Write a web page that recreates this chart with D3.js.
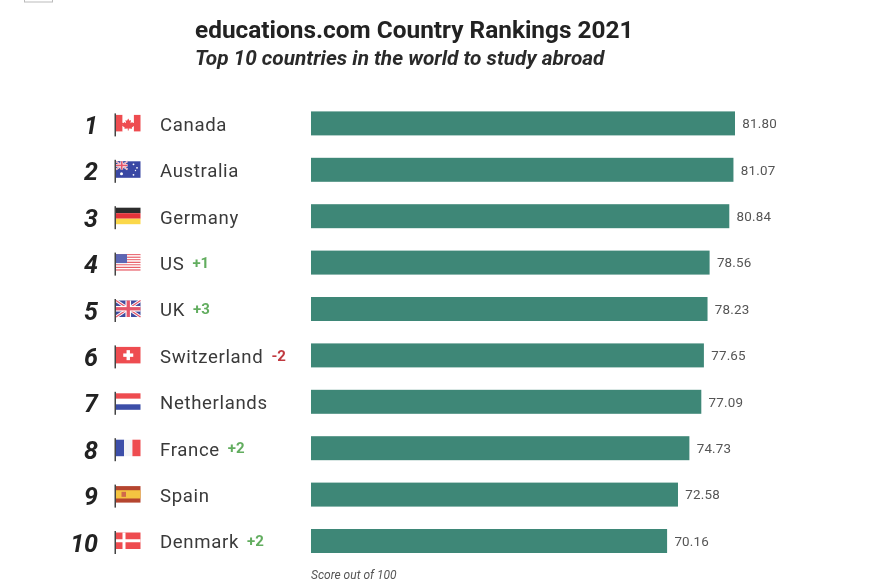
<!DOCTYPE html>
<html><head><meta charset="utf-8">
<script src="https://cdnjs.cloudflare.com/ajax/libs/d3/7.8.5/d3.min.js"></script>
<style>html,body{margin:0;padding:0;background:#fff}svg{display:block;filter:blur(0.35px)}text{font-family:Roboto,sans-serif}</style>
</head><body><svg id="c" width="874" height="586"></svg>
<script>
const countries = ["Canada","Australia","Germany","US","UK","Switzerland","Netherlands","France","Spain","Denmark"];
const ranks = [1,2,3,4,5,6,7,8,9,10];
const scoreLabels = ["81.80","81.07","80.84","78.56","78.23","77.65","77.09","74.73","72.58","70.16"];
// Bar lengths as drawn in the picture (they do not track the printed scores exactly)
const barValues = [81.8,81.5,80.7,76.9,76.5,75.8,75.3,73.0,70.8,68.7];
const changes = ["","","","+1","+3","-2","","+2","","+2"];
const flagKeys = ["ca","au","de","us","uk","ch","nl","fr","es","dk"];
const titleText = "educations.com Country Rankings 2021";
const subtitleText = "Top 10 countries in the world to study abroad";
const noteText = "Score out of 100";

const svg = d3.select("#c");
const x = d3.scaleLinear().domain([0,81.8]).range([311,735]);
const y = d3.scaleBand().domain(ranks).range([100.2,564.2]).paddingInner(0.483).paddingOuter(0.2415);

svg.append("rect").attr("x",24.5).attr("y",-2).attr("width",28).attr("height",4).attr("fill","#fff").attr("stroke","#bbb");

svg.append("text").text(titleText).attr("x",195).attr("y",38).attr("font-size",24.4).attr("font-weight",700).attr("fill","#222");
svg.append("text").text(subtitleText).attr("x",195).attr("y",65).attr("font-size",20.8).attr("font-weight",700).attr("font-style","italic").attr("fill","#2a2a2a");
svg.append("text").text(noteText).attr("x",311).attr("y",579).attr("font-size",12).attr("font-style","italic").attr("fill","#555");

const rows = svg.selectAll("g.row").data(ranks.map((r,i)=>({r,i}))).join("g").attr("class","row");
const cy = d=>y(d.r)+y.bandwidth()/2;

rows.append("rect").attr("x",x(0)).attr("y",d=>y(d.r)).attr("width",d=>x(barValues[d.i])-x(0)).attr("height",y.bandwidth()).attr("fill","#3e8777");
rows.append("text").text(d=>scoreLabels[d.i]).attr("x",d=>x(barValues[d.i])+7.3).attr("y",d=>cy(d)+4.7).attr("font-size",13.4).attr("letter-spacing",0.2).attr("fill","#555");
rows.append("text").text(d=>d.r).attr("x",98).attr("y",d=>cy(d)+10.5).attr("text-anchor","end").attr("font-size",25).attr("font-weight",700).attr("font-style","italic").attr("fill","#222");
const names = rows.append("text").attr("x",160).attr("y",d=>cy(d)+7.3).attr("font-size",18.6).attr("letter-spacing",0.65).attr("fill","#3a3a3a").text(d=>countries[d.i]);
rows.append("text").text(d=>changes[d.i]).attr("font-size",15).attr("font-weight",700)
  .attr("fill",d=>changes[d.i][0]==="-"?"#c0393f":"#62ad5f")
  .attr("x",(d,i)=>160+names.nodes()[i].getComputedTextLength()+8).attr("y",d=>cy(d)+5.2);

// Flags: drawn in a 24.5 x 16.5 local box
const W=24.5,H=16.5;
const red="#ee4c50",blue="#3c4ea8";
function hStripes(g,cols){const b=d3.scaleBand().domain(d3.range(cols.length)).range([0,H]);cols.forEach((c,i)=>g.append("rect").attr("x",0).attr("y",b(i)).attr("width",W).attr("height",b.bandwidth()).attr("fill",c));}
function vStripes(g,cols,ws){let p=0;cols.forEach((c,i)=>{g.append("rect").attr("x",p*W).attr("y",0).attr("width",ws[i]*W).attr("height",H).attr("fill",c);p+=ws[i];});}
function miniUnion(g,w,h){
  g.append("rect").attr("width",w).attr("height",h).attr("fill","#3f4a9e");
  [[0,0,w,h],[0,h,w,0]].forEach(l=>{
    g.append("line").attr("x1",l[0]).attr("y1",l[1]).attr("x2",l[2]).attr("y2",l[3]).attr("stroke","#fff").attr("stroke-width",h*0.2);
    g.append("line").attr("x1",l[0]).attr("y1",l[1]).attr("x2",l[2]).attr("y2",l[3]).attr("stroke","#e5566a").attr("stroke-width",h*0.08);});
  g.append("rect").attr("x",w/2-h*0.17).attr("width",h*0.34).attr("height",h).attr("fill","#fff");
  g.append("rect").attr("y",h*0.33).attr("width",w).attr("height",h*0.34).attr("fill","#fff");
  g.append("rect").attr("x",w/2-h*0.1).attr("width",h*0.2).attr("height",h).attr("fill","#e5566a");
  g.append("rect").attr("y",h*0.4).attr("width",w).attr("height",h*0.2).attr("fill","#e5566a");
}
const painters={
 ca(g){vStripes(g,[red,"#fff",red],[0.27,0.46,0.27]);
   g.append("path").attr("d","M12.2 3.5l1.3 2.4 1.5-.7-.5 3.2 1.8-1.4.5 1.1 2-.3-.6 2 .8.5-3.2 2.4.3 1.2-3.4-.4v2h-.9v-2l-3.4.4.3-1.2-3.2-2.4.8-.5-.6-2 2 .3.5-1.1 1.8 1.4-.5-3.2 1.5.7z").attr("fill",red);},
 au(g){g.append("rect").attr("width",W).attr("height",H).attr("fill","#3a48a4");
   miniUnion(g.append("g"),11.5,8.2);
   [[5.5,12.5,1.5],[17.5,3,.9],[21,6.5,.9],[17.5,13.5,.9],[19.5,9.2,.7]].forEach(s=>g.append("circle").attr("cx",s[0]).attr("cy",s[1]).attr("r",s[2]).attr("fill","#fff"));},
 de(g){hStripes(g,["#2c2c2c","#e5333a","#fbd84a"]);},
 us(g){const cols=d3.range(13).map(i=>i%2?"#fff":"#e8606a");hStripes(g,cols);
   g.append("rect").attr("width",11).attr("height",9).attr("fill","#5c66b4");},
 uk(g){miniUnion(g,W,H);},
 ch(g){g.append("rect").attr("width",W).attr("height",H).attr("fill",red);
   g.append("rect").attr("x",W/2-5).attr("y",H/2-1.7).attr("width",10).attr("height",3.4).attr("fill","#fff");
   g.append("rect").attr("x",W/2-1.7).attr("y",H/2-5).attr("width",3.4).attr("height",10).attr("fill","#fff");},
 nl(g){hStripes(g,[red,"#fff",blue]);},
 fr(g){vStripes(g,[blue,"#f3f3f5",red],[0.33,0.34,0.33]);},
 es(g){g.append("rect").attr("width",W).attr("height",H).attr("fill","#b5452f");
   g.append("rect").attr("y",H/4).attr("width",W).attr("height",H/2).attr("fill","#f4c441");
   g.append("rect").attr("x",5.5).attr("y",H/2-2.5).attr("width",4.5).attr("height",5).attr("fill","#d0694a");},
 dk(g){g.append("rect").attr("width",W).attr("height",H).attr("fill",red);
   g.append("rect").attr("x",6.5).attr("width",3).attr("height",H).attr("fill","#fff");
   g.append("rect").attr("y",H/2-1.5).attr("width",W).attr("height",3).attr("fill","#fff");}
};
rows.each(function(d){
  const cyv=cy(d);
  const f=d3.select(this).append("g").attr("transform",`translate(116,${cyv-8.5})`);
  painters[flagKeys[d.i]](f);
  d3.select(this).append("rect").attr("x",114.5).attr("y",cyv-10).attr("width",1.5).attr("height",23).attr("fill","#444");
});
</script></body></html>
